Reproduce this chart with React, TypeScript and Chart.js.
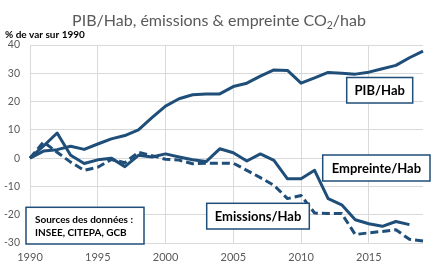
import React, { useEffect, useRef } from "react";
import { Chart, registerables } from "chart.js";

Chart.register(...registerables);

const years = [
  1990, 1991, 1992, 1993, 1994, 1995, 1996, 1997, 1998, 1999,
  2000, 2001, 2002, 2003, 2004, 2005, 2006, 2007, 2008, 2009,
  2010, 2011, 2012, 2013, 2014, 2015, 2016, 2017, 2018, 2019,
];

const pibHab = [
  0, 2.5, 3.0, 4.2, 3.1, 5.0, 6.8, 8.0, 10.0, 14.3,
  18.4, 21.0, 22.4, 22.7, 22.7, 25.3, 26.5, 29.0, 31.2, 31.0,
  26.5, 28.4, 30.3, 30.0, 29.7, 30.4, 31.6, 32.8, 35.5, 37.8,
];

const empreinteHab = [
  0, 4.3, 8.9, 1.0, -1.9, -0.6, 0.0, -3.0, 1.0, 0.4,
  1.5, 0.4, -0.6, -1.2, 3.3, 1.9, -1.0, 1.5, -0.8, -7.3,
  -7.3, -4.3, -14.3, -16.5, -21.8, -23.2, -24.1, -22.4, -23.5, null,
];

const emissionsHab = [
  0, 5.7, 2.1, -1.4, -4.3, -3.2, -0.5, -1.6, 2.1, 0.9,
  -0.4, -0.7, -2.0, -1.8, -1.8, -1.8, -4.3, -6.9, -9.6, -14.3,
  -13.2, -19.4, -19.6, -19.6, -27.0, -26.4, -25.9, -25.3, -28.7, -29.3,
];

const yTicks = { min: -30, max: 40, step: 10 };

const titleMain = "PIB/Hab, émissions & empreinte CO";
const titleSub = "2";
const titleEnd = "/hab";
const yAxisTitle = "% de var sur 1990";
const sourcesLines = ["Sources des données :", "INSEE, CITEPA, GCB"];
const labelPib = "PIB/Hab";
const labelEmpreinte = "Empreinte/Hab";
const labelEmissions = "Emissions/Hab";

const FONT = "Lato, 'Open Sans', sans-serif";
const BLUE = "#1F4E79";
const GRID = "#d9d9d9";

const overlayPlugin = {
  id: "overlay",
  afterDraw(chart: any) {
    const ctx = chart.ctx as CanvasRenderingContext2D;
    ctx.save();
    // Title
    ctx.fillStyle = "#595959";
    ctx.textBaseline = "alphabetic";
    ctx.textAlign = "left";
    const big = `16px ${FONT}`;
    const small = `10.5px ${FONT}`;
    ctx.font = big;
    const w1 = ctx.measureText(titleMain).width;
    const w3 = ctx.measureText(titleEnd).width;
    ctx.font = small;
    const w2 = ctx.measureText(titleSub).width;
    let x = 219 - (w1 + w2 + w3) / 2;
    ctx.font = big;
    ctx.fillText(titleMain, x, 26);
    x += w1;
    ctx.font = small;
    ctx.fillText(titleSub, x, 29);
    x += w2;
    ctx.font = big;
    ctx.fillText(titleEnd, x, 26);

    // Y-axis title
    ctx.fillStyle = "#000";
    ctx.font = `bold 10px ${FONT}`;
    ctx.fillText(yAxisTitle, 5, 38);

    const box = (bx: number, by: number, bw: number, bh: number) => {
      ctx.fillStyle = "#fff";
      ctx.fillRect(bx, by, bw, bh);
      ctx.strokeStyle = BLUE;
      ctx.lineWidth = 1.5;
      ctx.strokeRect(bx, by, bw, bh);
    };
    const centered = (text: string, bx: number, by: number, bw: number, bh: number, size: number) => {
      box(bx, by, bw, bh);
      ctx.fillStyle = "#000";
      ctx.font = `bold ${size}px ${FONT}`;
      ctx.textAlign = "center";
      ctx.textBaseline = "middle";
      ctx.fillText(text, bx + bw / 2, by + bh / 2 + 0.5);
    };
    centered(labelPib, 346.7, 77.5, 66, 25.5, 13);
    centered(labelEmpreinte, 322.7, 155, 107.3, 26, 13);
    centered(labelEmissions, 206.7, 203.3, 102.6, 25.7, 13);

    box(26, 207.3, 118, 36.7);
    ctx.fillStyle = "#000";
    ctx.font = `bold 10px ${FONT}`;
    ctx.textAlign = "left";
    ctx.textBaseline = "alphabetic";
    ctx.fillText(sourcesLines[0], 35, 223);
    ctx.fillText(sourcesLines[1], 35, 236);
    ctx.restore();
  },
};

export default function App() {
  const ref = useRef<HTMLCanvasElement | null>(null);
  useEffect(() => {
    if (!ref.current) return;
    const lineCommon = {
      borderColor: BLUE,
      backgroundColor: BLUE,
      borderWidth: 3,
      pointRadius: 0,
      tension: 0,
      borderJoinStyle: "round" as const,
      fill: false,
    };
    const chart = new Chart(ref.current, {
      type: "line",
      data: {
        labels: years.map(String),
        datasets: [
          { ...lineCommon, label: "PIB/Hab", data: pibHab },
          { ...lineCommon, label: "Empreinte/Hab", data: empreinteHab as any },
          { ...lineCommon, label: "Emissions/Hab", data: emissionsHab, borderDash: [8, 4] },
        ],
      },
      options: {
        animation: false,
        responsive: false,
        maintainAspectRatio: false,
        layout: { padding: { top: 45, right: 16, left: 0, bottom: 0 } },
        plugins: {
          legend: { display: false },
          tooltip: { enabled: false },
          title: { display: false },
        },
        scales: {
          x: {
            type: "category",
            border: { display: false },
            grid: {
              drawTicks: false,
              color: (c: any) => (years[c.index] % 5 === 0 ? GRID : "rgba(0,0,0,0)"),
              lineWidth: 1,
            },
            ticks: {
              autoSkip: false,
              maxRotation: 0,
              minRotation: 0,
              padding: 8,
              color: "#595959",
              font: { family: FONT, size: 11 },
              callback: (_v: any, i: number) => (years[i] % 5 === 0 ? String(years[i]) : ""),
            },
            afterFit: (s: any) => {
              s.height = 22;
            },
          },
          y: {
            min: yTicks.min,
            max: yTicks.max,
            border: { display: false },
            grid: { drawTicks: false, color: GRID, lineWidth: 1 },
            ticks: {
              stepSize: yTicks.step,
              padding: 10,
              color: "#595959",
              font: { family: FONT, size: 10.5 },
            },
            afterFit: (s: any) => {
              s.width = 30;
            },
          },
        },
      },
      plugins: [overlayPlugin],
    });
    return () => chart.destroy();
  }, []);
  return (
    <div style={{ position: "absolute", left: 0, top: 0, width: 439, height: 265, background: "#fff" }}>
      <canvas ref={ref} width={439} height={265} />
    </div>
  );
}
